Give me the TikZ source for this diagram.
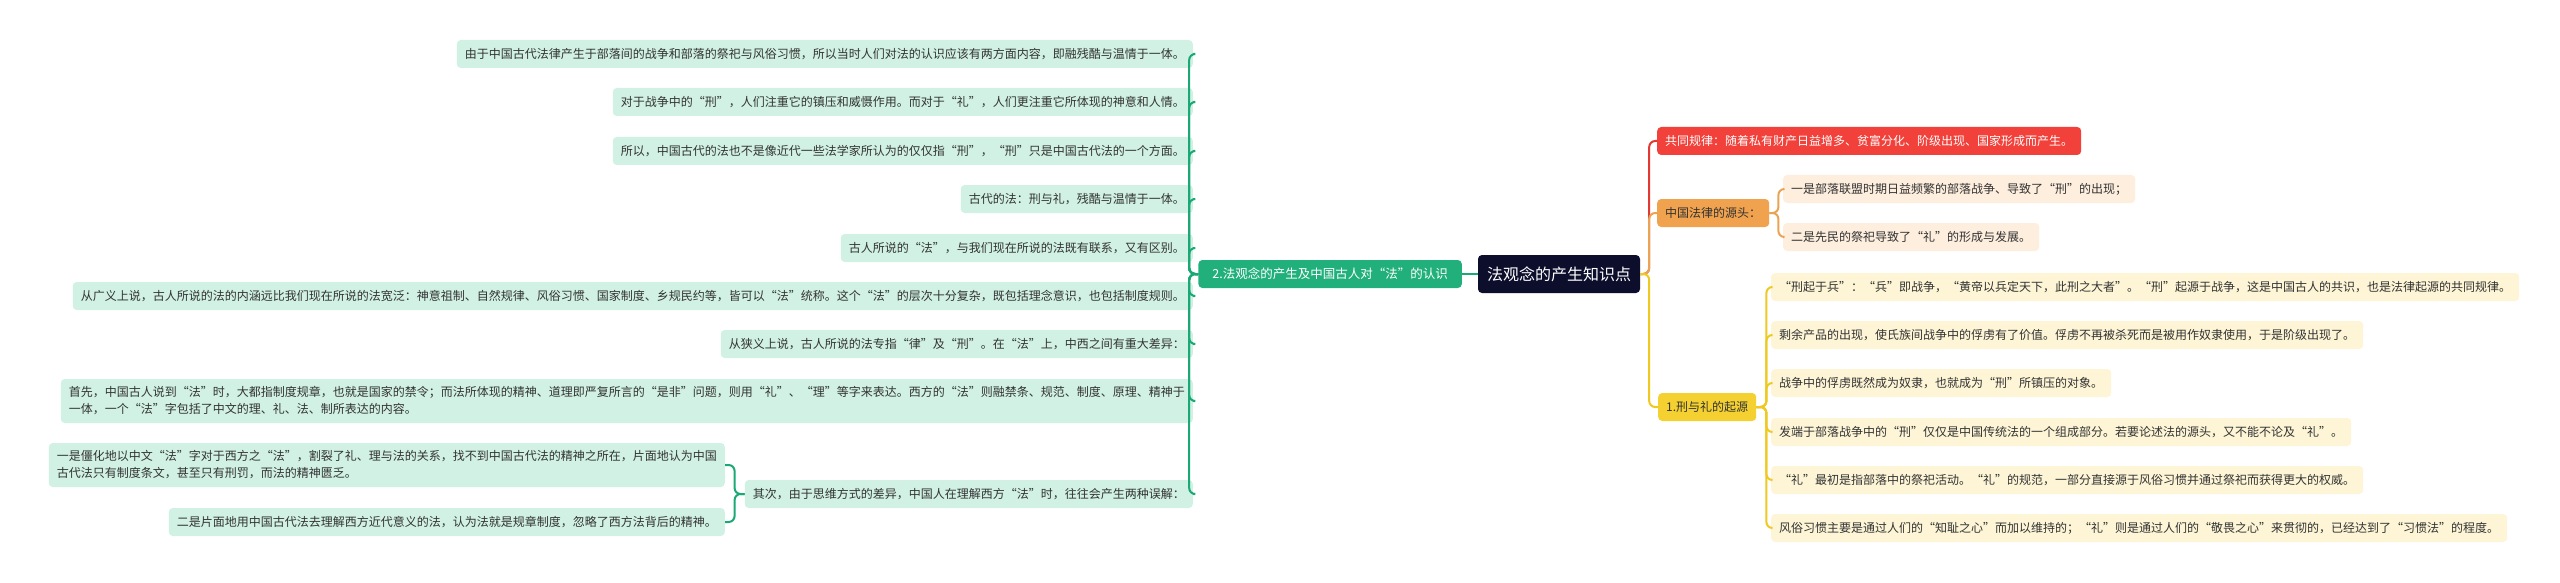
\documentclass[tikz,border=0pt]{standalone}
\usepackage{fontspec}
\setmainfont{Noto Sans CJK SC}
\definecolor{txt}{HTML}{333333}
\definecolor{rootc}{HTML}{0D0E2C}
\definecolor{gmain}{HTML}{21B07B}
\definecolor{gline}{HTML}{1AA874}
\definecolor{mint}{HTML}{D0F1E3}
\definecolor{redc}{HTML}{F2403A}
\definecolor{redl}{HTML}{E23A33}
\definecolor{orc}{HTML}{F0A24E}
\definecolor{orl}{HTML}{EAA352}
\definecolor{peach}{HTML}{FDEEDE}
\definecolor{yelc}{HTML}{F4D130}
\definecolor{yell}{HTML}{EFC920}
\definecolor{lyel}{HTML}{FDF5D6}
\tikzset{
  box/.style={rounded corners=4pt, inner xsep=8pt, inner ysep=0pt, minimum height=28pt, text=txt, font=\fontsize{12}{17}\selectfont, align=left},
  lleaf/.style={box, fill=mint, anchor=east},
  lleaftwo/.style={box, fill=mint, anchor=east, minimum height=44pt},
  oleaf/.style={box, fill=peach, anchor=west},
  yleaf/.style={box, fill=lyel, anchor=west},
  gconn/.style={draw=gline, line width=2pt, rounded corners=6pt},
  rconn/.style={draw=redl, line width=2pt, rounded corners=6pt},
  oconn/.style={draw=orl, line width=2pt, rounded corners=6pt},
  yconn/.style={draw=yell, line width=2pt, rounded corners=6pt},
}
\begin{document}
\begin{tikzpicture}[x=1pt,y=-1pt]
\useasboundingbox[fill=white] (0,0) rectangle (2560,583);
% root
\node[fill=rootc, rounded corners=4pt, minimum width=162pt, minimum height=38pt, inner sep=0pt, text=white, font=\fontsize{16}{20}\selectfont] (root) at (1559,274) {法观念的产生知识点};
% left main branch
\node[box, fill=gmain, text=white, anchor=east, font=\fontsize{12.5}{17}\selectfont, inner xsep=14pt] (g2) at (1462,274) {2.法观念的产生及中国古人对“法”的认识};
\node[lleaf] (c1) at (1193,54) {由于中国古代法律产生于部落间的战争和部落的祭祀与风俗习惯，所以当时人们对法的认识应该有两方面内容，即融残酷与温情于一体。};
\node[lleaf] (c2) at (1193,102) {对于战争中的“刑”，人们注重它的镇压和威慑作用。而对于“礼”，人们更注重它所体现的神意和人情。};
\node[lleaf] (c3) at (1193,151) {所以，中国古代的法也不是像近代一些法学家所认为的仅仅指“刑”，“刑”只是中国古代法的一个方面。};
\node[lleaf] (c4) at (1193,199) {古代的法：刑与礼，残酷与温情于一体。};
\node[lleaf] (c5) at (1193,248) {古人所说的“法”，与我们现在所说的法既有联系，又有区别。};
\node[lleaf] (c6) at (1193,296) {从广义上说，古人所说的法的内涵远比我们现在所说的法宽泛：神意祖制、自然规律、风俗习惯、国家制度、乡规民约等，皆可以“法”统称。这个“法”的层次十分复杂，既包括理念意识，也包括制度规则。};
\node[lleaf] (c7) at (1193,344) {从狭义上说，古人所说的法专指“律”及“刑”。在“法”上，中西之间有重大差异：};
\node[lleaftwo] (c8) at (1193,401) {首先，中国古人说到“法”时，大都指制度规章，也就是国家的禁令；而法所体现的精神、道理即严复所言的“是非”问题，则用“礼”、“理”等字来表达。西方的“法”则融禁条、规范、制度、原理、精神于\\一体，一个“法”字包括了中文的理、礼、法、制所表达的内容。};
\node[lleaf] (c9) at (1193,494) {其次，由于思维方式的差异，中国人在理解西方“法”时，往往会产生两种误解：};
\node[lleaftwo] (c9a) at (725,465) {一是僵化地以中文“法”字对于西方之“法”，割裂了礼、理与法的关系，找不到中国古代法的精神之所在，片面地认为中国\\古代法只有制度条文，甚至只有刑罚，而法的精神匮乏。};
\node[lleaf] (c9b) at (725,522) {二是片面地用中国古代法去理解西方近代意义的法，认为法就是规章制度，忽略了西方法背后的精神。};
% right branches
\node[box, fill=redc, text=white, anchor=west] (red) at (1657,141) {共同规律：随着私有财产日益增多、贫富分化、阶级出现、国家形成而产生。};
\node[box, fill=orc, anchor=west] (orn) at (1657,213) {中国法律的源头：};
\node[oleaf] (o1) at (1783,189) {一是部落联盟时期日益频繁的部落战争、导致了“刑”的出现；};
\node[oleaf] (o2) at (1783,237) {二是先民的祭祀导致了“礼”的形成与发展。};
\node[box, fill=yelc, anchor=west] (yel) at (1658,407) {1.刑与礼的起源};
\node[yleaf] (y1) at (1771,287) {“刑起于兵”：“兵”即战争，“黄帝以兵定天下，此刑之大者”。“刑”起源于战争，这是中国古人的共识，也是法律起源的共同规律。};
\node[yleaf] (y2) at (1771,335) {剩余产品的出现，使氏族间战争中的俘虏有了价值。俘虏不再被杀死而是被用作奴隶使用，于是阶级出现了。};
\node[yleaf] (y3) at (1771,383) {战争中的俘虏既然成为奴隶，也就成为“刑”所镇压的对象。};
\node[yleaf] (y4) at (1771,432) {发端于部落战争中的“刑”仅仅是中国传统法的一个组成部分。若要论述法的源头，又不能不论及“礼”。};
\node[yleaf] (y5) at (1771,480) {“礼”最初是指部落中的祭祀活动。“礼”的规范，一部分直接源于风俗习惯并通过祭祀而获得更大的权威。};
\node[yleaf] (y6) at (1771,528) {风俗习惯主要是通过人们的“知耻之心”而加以维持的；“礼”则是通过人们的“敬畏之心”来贯彻的，已经达到了“习惯法”的程度。};
% connectors left
\draw[gconn] (root.west) -- (g2.east);
\foreach \c in {c1,c2,c3,c4,c5,c6,c7,c8,c9}{
  \draw[gconn] (g2.west) -- ++(-9,0) |- (\c.east);
}
\draw[gconn] (c9.west) -- ++(-10,0) |- (c9a.east);
\draw[gconn] (c9.west) -- ++(-10,0) |- (c9b.east);
% connectors right
\draw[rconn] (root.east) -- ++(9,0) |- (red.west);
\draw[oconn] (root.east) -- ++(9,0) |- (orn.west);
\draw[yconn] (root.east) -- ++(9,0) |- (yel.west);
\draw[oconn] (orn.east) -- ++(9,0) |- (o1.west);
\draw[oconn] (orn.east) -- ++(9,0) |- (o2.west);
\foreach \c in {y1,y2,y3,y4,y5,y6}{
  \draw[yconn] (yel.east) -- ++(10,0) |- (\c.west);
}
\end{tikzpicture}
\end{document}
